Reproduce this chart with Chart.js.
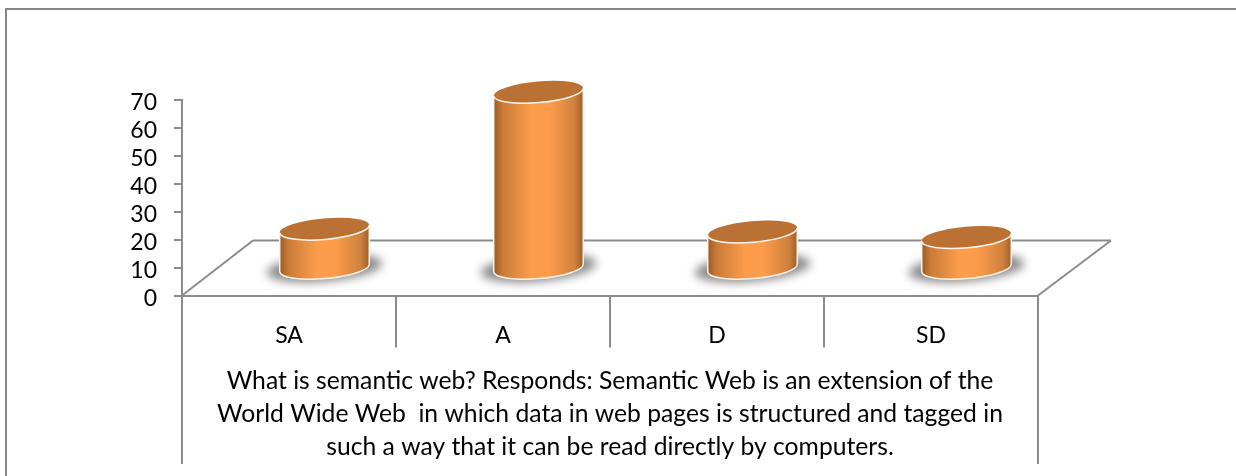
<!DOCTYPE html>
<html>
<head>
<meta charset="utf-8">
<style>
    html, body { margin: 0; padding: 0; background: #fff; }
    #wrap { position: relative; width: 1236px; height: 476px; }
</style>
<script src="https://cdn.jsdelivr.net/npm/chart.js@4"></script>
</head>
<body>
<div id="wrap"><canvas id="chart" width="1236" height="476"></canvas></div>
<script>
// Chart data
const categories = ['SA', 'A', 'D', 'SD'];
const responses = [14, 63, 13, 11];
const yMax = 70;
const yStep = 10;
const caption = [
    'What is semantic web? Responds: Semantic Web is an extension of the',
    'World Wide Web  in which data in web pages is structured and tagged in',
    'such a way that it can be read directly by computers.'
];

const lineColor = '#8c8c8c';
const textFont = 'Lato, "Noto Sans", sans-serif';

// Floor depth of the fake 3D box, cylinders stand halfway back
const depthX = 71;
const depthY = 55;
const tilt = -5 * Math.PI / 180;
const ryRatio = 0.235;

function strokeLine(ctx, x1, y1, x2, y2) {
    ctx.beginPath();
    ctx.moveTo(x1, y1);
    ctx.lineTo(x2, y2);
    ctx.stroke();
}

// Outer frame, floor and the long side rules
const framePlugin = {
    id: 'frame',
    beforeDraw(chart) {
        // y labels sit a little below their tick marks
        const yScale = chart.scales.y;
        yScale._labelItems = yScale._computeLabelItems(chart.chartArea);
        yScale._labelItems.forEach(item => { item.options.translation[1] += 3; });
    },
    beforeDatasetsDraw(chart) {
        const ctx = chart.ctx;
        const { left, right, bottom } = chart.chartArea;
        ctx.save();
        ctx.strokeStyle = '#858585';
        ctx.lineWidth = 2;
        strokeLine(ctx, 5, 9, 1236, 9);
        strokeLine(ctx, 6, 9, 6, 476);

        ctx.strokeStyle = lineColor;
        strokeLine(ctx, left, bottom, left + depthX, bottom - depthY);
        strokeLine(ctx, left + depthX, bottom - depthY, right + depthX + 2, bottom - depthY);
        strokeLine(ctx, right + depthX + 2, bottom - depthY, right, bottom);
        strokeLine(ctx, left, bottom, left, 464);
        strokeLine(ctx, right, bottom, right, 464);
        ctx.restore();
    }
};

function drawCylinder(ctx, bar) {
    const rx = bar.width / 2;
    const ry = rx * ryRatio;
    const cx = bar.x + depthX / 2;
    const topY = bar.y - depthY / 2;
    const baseY = bar.base - depthY / 2 + 1;
    const dx = rx * Math.cos(tilt);
    const dy = rx * Math.sin(tilt);

    // Blurred shadow on the floor
    ctx.save();
    ctx.filter = 'blur(5px)';
    ctx.fillStyle = '#8a8a8a';
    ctx.beginPath();
    ctx.ellipse(cx, baseY, rx + 13, ry + 3, tilt, 0, Math.PI * 2);
    ctx.fill();
    ctx.restore();

    // Side of the cylinder
    const grad = ctx.createLinearGradient(cx - rx, 0, cx + rx, 0);
    grad.addColorStop(0, '#9a5822');
    grad.addColorStop(0.1, '#c97c38');
    grad.addColorStop(0.42, '#fd9c4b');
    grad.addColorStop(0.62, '#fd9c4b');
    grad.addColorStop(0.9, '#cf823e');
    grad.addColorStop(1, '#a05e26');
    ctx.save();
    ctx.beginPath();
    ctx.moveTo(cx - dx, topY - dy);
    ctx.lineTo(cx - dx, baseY - dy);
    ctx.ellipse(cx, baseY, rx, ry, tilt, Math.PI, 0, true);
    ctx.lineTo(cx + dx, topY + dy);
    ctx.closePath();
    ctx.fillStyle = grad;
    ctx.fill();
    ctx.strokeStyle = '#fbf3ea';
    ctx.lineWidth = 1.5;
    ctx.stroke();

    // Lid
    ctx.beginPath();
    ctx.ellipse(cx, topY, rx, ry, tilt, 0, Math.PI * 2);
    ctx.fillStyle = '#bb7133';
    ctx.fill();
    ctx.strokeStyle = '#fdf6ee';
    ctx.lineWidth = 1.5;
    ctx.beginPath();
    ctx.ellipse(cx, topY, rx, ry, tilt, 0, Math.PI);
    ctx.stroke();
    ctx.restore();
}

// Bars get drawn as cylinders instead of flat rectangles
const cylinderPlugin = {
    id: 'cylinder',
    beforeDatasetDraw(chart, args) {
        const ctx = chart.ctx;
        args.meta.data.forEach(bar => drawCylinder(ctx, bar));
        return false;
    }
};

new Chart(document.getElementById('chart'), {
    type: 'bar',
    data: {
        labels: categories,
        datasets: [{
            label: 'Responses',
            data: responses,
            backgroundColor: '#f79646',
            barPercentage: 0.42,
            categoryPercentage: 1
        }]
    },
    options: {
        responsive: false,
        animation: false,
        layout: {
            padding: { top: 100, right: 198, bottom: 0, left: 0 }
        },
        plugins: {
            legend: { display: false },
            title: { display: false },
            tooltip: { enabled: false }
        },
        scales: {
            y: {
                min: 0,
                max: yMax,
                afterFit: scale => { scale.width = 182; },
                ticks: {
                    stepSize: yStep,
                    autoSkip: false,
                    color: '#000',
                    padding: 17,
                    font: { family: textFont, size: 23 }
                },
                grid: {
                    drawOnChartArea: false,
                    color: lineColor,
                    lineWidth: 2,
                    tickLength: 8
                },
                border: { color: lineColor, width: 2 }
            },
            x: {
                afterFit: scale => { scale.height = 180.5; },
                ticks: {
                    color: '#000',
                    padding: -26,
                    maxRotation: 0,
                    font: { family: textFont, size: 23 }
                },
                grid: {
                    offset: true,
                    drawOnChartArea: false,
                    color: lineColor,
                    lineWidth: 2,
                    tickLength: 52
                },
                border: { color: lineColor, width: 2 },
                title: {
                    display: true,
                    text: caption,
                    color: '#000',
                    padding: { top: 0, bottom: 12 },
                    font: { family: textFont, size: 24.7, lineHeight: 1.336 }
                }
            }
        }
    },
    plugins: [framePlugin, cylinderPlugin]
});
</script>
</body>
</html>
